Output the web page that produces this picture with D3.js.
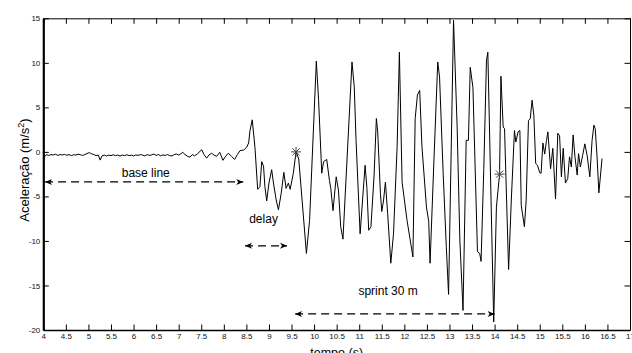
<!DOCTYPE html>
<html>
<head>
<meta charset="utf-8">
<script src="https://cdn.jsdelivr.net/npm/d3@7"></script>
<style>
  body { margin: 0; background: #fff; }
  svg { display: block; font-family: "Liberation Sans", Arial, sans-serif; }
</style>
</head>
<body>
<svg id="chart" width="632" height="353"></svg>
<script>
// sinal de aceleração: [tempo (s), aceleração (m/s²)]
const sinal = [
  [4.00,-0.05],[4.03,-0.55],[4.07,-0.30],[4.12,-0.40],[4.17,-0.30],[4.22,-0.35],[4.27,-0.25],[4.32,-0.40],
  [4.37,-0.30],[4.42,-0.35],[4.47,-0.28],[4.52,-0.38],[4.57,-0.30],[4.62,-0.42],[4.67,-0.32],[4.72,-0.36],
  [4.77,-0.26],[4.82,-0.32],[4.87,-0.40],[4.92,-0.30],[4.97,-0.18],[5.02,-0.08],[5.07,-0.22],[5.12,-0.30],
  [5.17,-0.42],[5.22,-0.36],[5.26,-0.92],[5.30,-0.45],[5.35,-0.36],[5.40,-0.46],[5.45,-0.36],[5.50,-0.42],
  [5.55,-0.32],[5.60,-0.42],[5.65,-0.36],[5.70,-0.46],[5.75,-0.36],[5.80,-0.42],[5.85,-0.32],[5.90,-0.42],
  [5.95,-0.36],[6.00,-0.46],[6.05,-0.34],[6.10,-0.40],[6.15,-0.30],[6.20,-0.36],[6.25,-0.46],[6.30,-0.30],
  [6.35,-0.40],[6.40,-0.34],[6.45,-0.24],[6.50,-0.40],[6.55,-0.30],[6.60,-0.44],[6.65,-0.34],[6.70,-0.40],
  [6.75,-0.30],[6.80,-0.42],[6.85,-0.46],[6.90,-0.30],[6.95,-0.24],[7.00,-0.36],[7.05,-0.20],[7.09,-0.05],
  [7.14,-0.30],[7.20,-0.50],[7.25,-0.60],[7.30,-0.30],[7.35,-0.45],[7.42,-0.20],[7.51,0.25],[7.56,-0.30],
  [7.62,-0.70],[7.67,-0.35],[7.73,-0.15],[7.78,-0.35],[7.84,-0.50],[7.91,-0.05],[7.98,-0.95],[8.04,-0.50],
  [8.10,-0.15],[8.17,-0.50],[8.24,-0.85],[8.30,-0.30],[8.36,0.15],[8.44,0.20],[8.51,0.55],[8.55,1.00],
  [8.58,2.40],[8.63,3.60],[8.69,0.50],[8.75,-4.20],[8.80,-3.90],[8.84,-1.10],[8.88,-1.60],[8.91,-3.90],
  [8.95,-5.50],[9.00,-3.50],[9.06,-2.00],[9.10,-3.50],[9.16,-5.40],[9.21,-6.50],[9.27,-4.70],[9.33,-2.30],
  [9.38,-4.10],[9.43,-3.50],[9.47,-4.20],[9.54,-2.40],[9.60,0.00],[9.66,-0.80],[9.83,-11.40],[9.90,-7.70],
  [10.05,10.20],[10.10,5.80],[10.17,-2.40],[10.21,-1.10],[10.28,-0.85],[10.34,-3.20],[10.37,-4.10],[10.42,-6.60],
  [10.49,-2.80],[10.54,-4.30],[10.59,-8.40],[10.64,-9.80],[10.84,10.10],[10.89,7.30],[10.93,1.30],[11.02,-9.20],
  [11.13,-1.50],[11.17,-4.00],[11.21,-8.80],[11.26,-8.40],[11.33,-2.60],[11.38,3.75],[11.41,2.25],[11.47,-4.70],
  [11.50,-6.70],[11.54,-5.40],[11.58,-3.40],[11.63,-6.90],[11.70,-12.50],[11.76,-9.20],[11.84,0.60],[11.89,11.20],
  [11.95,-3.40],[12.06,-7.70],[12.19,-11.80],[12.24,3.75],[12.29,6.40],[12.34,6.90],[12.39,0.60],[12.49,-6.20],
  [12.54,-7.80],[12.57,-12.50],[12.65,-1.70],[12.74,10.10],[12.78,8.40],[12.86,-2.40],[12.93,-10.70],[12.98,-16.00],
  [13.09,14.80],[13.17,2.80],[13.23,-9.90],[13.30,-17.80],[13.37,1.30],[13.42,1.30],[13.46,9.50],[13.52,7.20],
  [13.62,-11.20],[13.67,-11.40],[13.70,-12.30],[13.76,-2.00],[13.82,10.30],[13.85,11.20],[13.98,-19.10],[14.04,-6.20],
  [14.11,-2.50],[14.14,8.50],[14.19,2.80],[14.22,2.60],[14.31,-13.20],[14.37,-5.40],[14.44,2.40],[14.47,1.10],
  [14.52,2.25],[14.56,2.40],[14.59,-6.00],[14.66,-8.40],[14.70,-5.40],[14.75,3.50],[14.79,3.75],[14.83,5.80],
  [14.87,4.10],[14.91,-1.30],[14.95,-1.50],[15.00,-2.35],[15.03,-2.40],[15.07,1.00],[15.11,-0.25],[15.15,1.30],
  [15.18,2.25],[15.24,-1.90],[15.29,0.40],[15.35,-5.30],[15.40,2.10],[15.44,1.80],[15.48,-2.80],[15.52,0.40],
  [15.57,-3.50],[15.62,-3.00],[15.66,-0.55],[15.70,-1.70],[15.74,1.90],[15.78,-0.55],[15.83,-2.60],[15.86,-0.20],
  [15.90,-1.70],[15.95,-0.40],[16.00,0.90],[16.05,-0.40],[16.11,-2.80],[16.16,1.30],[16.20,3.00],[16.23,2.60],
  [16.27,-0.55],[16.31,-4.60],[16.38,-0.75]
];

// marcadores '*' (início e fim do sprint)
const marcadores = [[9.60, 0.00], [14.11, -2.50]];

// setas tracejadas de duas pontas: de / até (s), nível (m/s²)
const setas = [
  { de: 4.04, ate: 8.43, nivel: -3.37 },
  { de: 8.47, ate: 9.40, nivel: -10.55 },
  { de: 9.58, ate: 14.00, nivel: -18.2 }
];

const rotulos = [
  { texto: 'base line', t: 6.27, a: -2.8 },
  { texto: 'delay', t: 8.88, a: -8.0 },
  { texto: 'sprint 30 m', t: 11.64, a: -16.1 }
];

const xTicks = [4, 4.5, 5, 5.5, 6, 6.5, 7, 7.5, 8, 8.5, 9, 9.5, 10, 10.5, 11, 11.5, 12, 12.5,
                13, 13.5, 14, 14.5, 15, 15.5, 16, 16.5, 17];
const yTicks = [-20, -15, -10, -5, 0, 5, 10, 15];

const svg = d3.select('#chart');
const margemEsq = 43.3, margemDir = 630, margemSup = 18.3, margemInf = 330;

const x = d3.scaleLinear().domain([4, 17]).range([margemEsq, margemDir]);
const y = d3.scaleLinear().domain([-20, 15]).range([margemInf, margemSup]);

// arrowhead
svg.append('defs').append('marker')
    .attr('id', 'ponta')
    .attr('viewBox', '-8 -4 9 8')
    .attr('refX', 0).attr('refY', 0)
    .attr('markerWidth', 9).attr('markerHeight', 8)
    .attr('markerUnits', 'userSpaceOnUse')
    .attr('orient', 'auto-start-reverse')
    .append('path')
    .attr('d', 'M0,0 L-7,-3 L-5,0 L-7,3 Z')
    .attr('fill', '#000');

// axes (ticks inside, box on)
const fmt = d => String(d);
const gx = svg.append('g').attr('transform', 'translate(0,' + margemInf + ')')
    .call(d3.axisBottom(x).tickValues(xTicks).tickFormat(fmt).tickSize(-5.5).tickSizeOuter(0).tickPadding(3.8));
const gy = svg.append('g').attr('transform', 'translate(' + margemEsq + ',0)')
    .call(d3.axisLeft(y).tickValues(yTicks).tickFormat(fmt).tickSize(-5.5).tickSizeOuter(0).tickPadding(3));
const gt = svg.append('g').attr('transform', 'translate(0,' + margemSup + ')')
    .call(d3.axisTop(x).tickValues(xTicks).tickFormat('').tickSize(-5.5).tickSizeOuter(0));
const gr = svg.append('g').attr('transform', 'translate(' + margemDir + ',0)')
    .call(d3.axisRight(y).tickValues(yTicks).tickFormat('').tickSize(-5.5).tickSizeOuter(0));

[gx, gy, gt, gr].forEach(g => {
  g.selectAll('text').attr('font-size', '8px').attr('font-family', '"Liberation Sans", Arial, sans-serif').attr('fill', '#111');
  g.selectAll('.tick line').attr('stroke', '#000').attr('stroke-width', 1);
});
gy.select('.domain').attr('stroke-width', 2.2);
gx.select('.domain').attr('stroke-width', 1.6);
gt.select('.domain').attr('stroke-width', 1);
gr.select('.domain').attr('stroke-width', 1);

// signal
const linha = d3.line().x(d => x(d[0])).y(d => y(d[1]));
svg.append('path')
    .datum(sinal)
    .attr('d', linha)
    .attr('fill', 'none')
    .attr('stroke', '#000')
    .attr('stroke-width', 1)
    .attr('stroke-linejoin', 'round');

// star markers
const r = 5;
svg.append('g').selectAll('path')
    .data(marcadores)
    .enter().append('path')
    .attr('transform', d => 'translate(' + x(d[0]) + ',' + y(d[1]) + ')')
    .attr('d', 'M' + (-r) + ',0H' + r + 'M0,' + (-r) + 'V' + r +
               'M' + (-r * 0.72) + ',' + (-r * 0.72) + 'L' + (r * 0.72) + ',' + (r * 0.72) +
               'M' + (-r * 0.72) + ',' + (r * 0.72) + 'L' + (r * 0.72) + ',' + (-r * 0.72))
    .attr('stroke', '#444')
    .attr('stroke-width', 1)
    .attr('fill', 'none');

// dashed arrows
svg.append('g').selectAll('line')
    .data(setas)
    .enter().append('line')
    .attr('x1', d => x(d.de)).attr('x2', d => x(d.ate))
    .attr('y1', d => y(d.nivel)).attr('y2', d => y(d.nivel))
    .attr('stroke', '#000')
    .attr('stroke-width', 1.2)
    .attr('stroke-dasharray', '8,5')
    .attr('marker-start', 'url(#ponta)')
    .attr('marker-end', 'url(#ponta)');

// annotation labels
svg.append('g').selectAll('text')
    .data(rotulos)
    .enter().append('text')
    .attr('x', d => x(d.t)).attr('y', d => y(d.a))
    .attr('text-anchor', 'middle')
    .attr('font-size', '12px')
    .attr('fill', '#000')
    .text(d => d.texto);

// axis titles
svg.append('text')
    .attr('x', (margemEsq + margemDir) / 2).attr('y', 357)
    .attr('text-anchor', 'middle')
    .attr('font-size', '12.5px')
    .text('tempo (s)');

const yl = svg.append('text')
    .attr('transform', 'translate(29,170) rotate(-90)')
    .attr('text-anchor', 'middle')
    .attr('font-size', '13px');
yl.append('tspan').text('Aceleração (m/s');
yl.append('tspan').attr('baseline-shift', 'super').attr('font-size', '9px').text('2');
yl.append('tspan').text(')');
</script>
</body>
</html>
